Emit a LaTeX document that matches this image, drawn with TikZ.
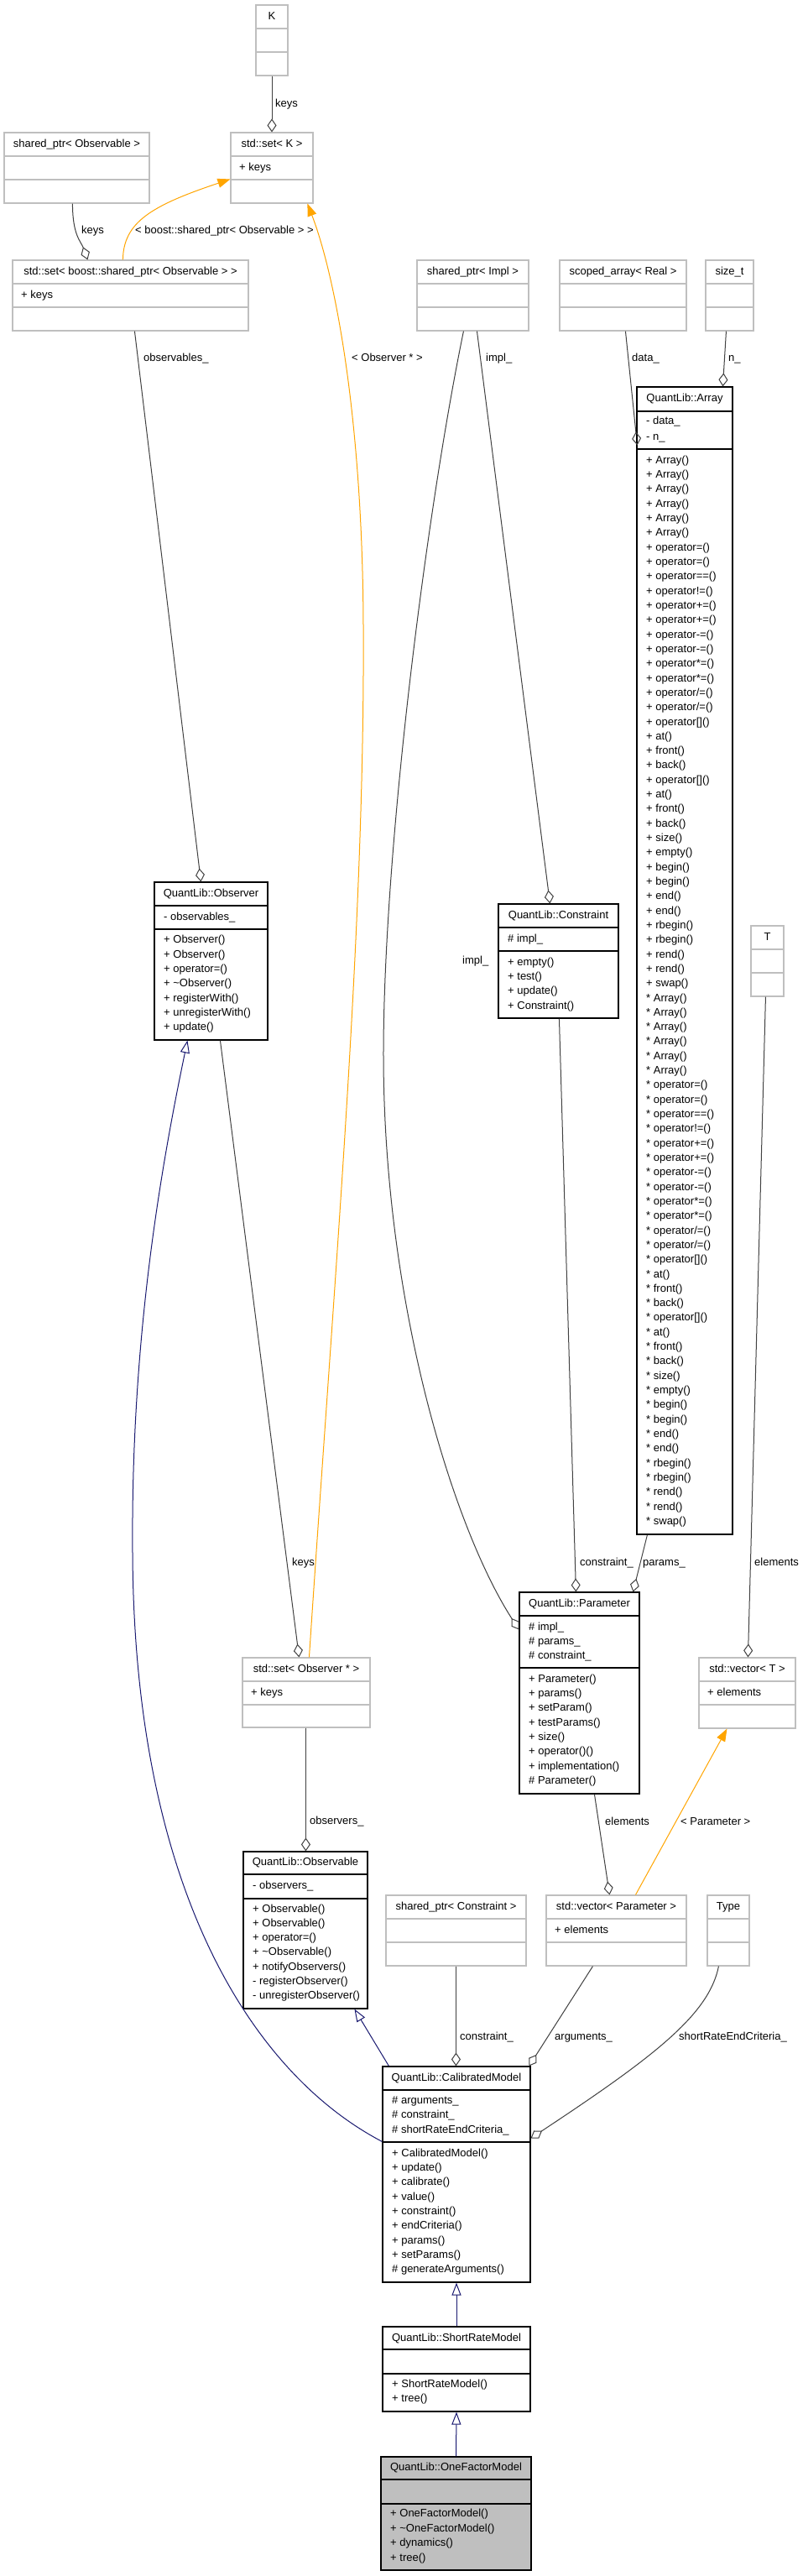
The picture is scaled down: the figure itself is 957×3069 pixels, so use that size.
\documentclass[tikz,border=0pt]{standalone}
\usepackage{fontspec}
\setmainfont{Liberation Sans}
\usetikzlibrary{arrows.meta,fit,calc}
\definecolor{edgegray}{HTML}{404040}
\definecolor{boxgray}{HTML}{BFBFBF}
\definecolor{midblue}{HTML}{191970}
\definecolor{tmplorange}{HTML}{FFA500}
\definecolor{fillgray}{HTML}{BFBFBF}
\newcounter{umltn}
\newcommand\umlmem[3]{\stepcounter{umltn}\node[txt,anchor=west] (m\arabic{umltn}) at (#1,#2) {#3};}
\newcommand\umlname[3]{\stepcounter{umltn}\node[txt] (m\arabic{umltn}) at (#1,#2) {#3};}
\newcommand\tbox[7]{%
  \node[gbox, fit={(#2,#3) (#4,#5)}] (#1) {};
  \draw[gline] (#2,#3+28) -- (#4,#3+28);
  \draw[gline] (#2,#3+56) -- (#4,#3+56);
  \node[txt] (#1-t) at ({(#2+#4)/2},{#3+14}) {#6};
  \if\relax\detokenize{#7}\relax\else
  \node[txt,anchor=west] (#1-a) at ({#2+10},{#3+42}) {#7};\fi
}
\begin{document}
\begin{tikzpicture}[x=1pt,y=-1pt,
 txt/.style={inner sep=0pt, text height=9.4pt, text depth=2.7pt, font=\fontsize{13}{15}\selectfont},
 bbox/.style={draw=black, line width=1.1pt, inner sep=0pt},
 gbox/.style={draw=boxgray, line width=1.1pt, inner sep=0pt},
 bline/.style={draw=black, line width=1.1pt},
 gline/.style={draw=boxgray, line width=1.1pt},
 agg/.style={draw=edgegray, line width=1pt, -{Diamond[open, length=16pt, width=11pt]}},
 inh/.style={draw=midblue, line width=1pt, -{Triangle[open, length=15pt, width=11pt]}},
 tpl/.style={draw=tmplorange, line width=1pt, -{Triangle[length=15pt, width=11pt]}},
 lbl/.style={txt, anchor=west}]
\fill[white] (0,0) rectangle (957,3069);
\useasboundingbox (0,0) rectangle (957,3069);

% ---------- gray (template / external) boxes
\tbox{K}{305}{6}{343}{90}{K}{}
\tbox{setK}{275}{158}{373}{242}{std::set< K >}{+ keys}
\tbox{shObs}{5}{158}{178}{242}{shared\_ptr< Observable >}{}
\tbox{setSh}{15}{310}{296}{394}{std::set< boost::shared\_ptr< Observable > >}{+ keys}
\tbox{shImpl}{497}{310}{630}{394}{shared\_ptr< Impl >}{}
\tbox{scArr}{667}{310}{818}{394}{scoped\_array< Real >}{}
\tbox{sizet}{841}{310}{898}{394}{size\_t}{}
\tbox{T}{895}{1103}{934}{1187}{T}{}
\tbox{vecT}{833}{1975}{948}{2059}{std::vector< T >}{+ elements}
\tbox{setObs}{289}{1975}{441}{2058}{std::set< Observer * >}{+ keys}
\tbox{shCon}{460}{2258}{627}{2342}{shared\_ptr< Constraint >}{}
\tbox{vecP}{651}{2258}{818}{2342}{std::vector< Parameter >}{+ elements}
\tbox{Type}{843}{2258}{893}{2342}{Type}{}

% ---------- QuantLib::Array
\node[bbox, fit={(759,461) (873,1828)}] (Array) {};
\draw[bline] (759,490) -- (873,490);
\draw[bline] (759,535) -- (873,535);
\umlname{816}{475.5}{QuantLib::Array}
\umlmem{770}{502}{- data\_}
\umlmem{770}{521}{- n\_}
\foreach \p [count=\k from 0] in {+,*} {
  \foreach \m [count=\i from 0] in {Array(),Array(),Array(),Array(),Array(),Array(),
    operator=(),operator=(),operator==(),operator!=(),operator+=(),operator+=(),
    operator-=(),operator-=(),operator*=(),operator*=(),operator/=(),operator/=(),
    operator[](),at(),front(),back(),operator[](),at(),front(),back(),size(),empty(),
    begin(),begin(),end(),end(),rbegin(),rbegin(),rend(),rend(),swap()} {
    \node[txt,anchor=west] (am\k-\i) at (770,{549+17.315*(\i+37*\k)}) {\p{} \m};
  }
}

% ---------- QuantLib::Constraint
\node[bbox, fit={(594,1077) (737,1213)}] (Constraint) {};
\draw[bline] (594,1105) -- (737,1105);
\draw[bline] (594,1133) -- (737,1133);
\umlname{665.5}{1091}{QuantLib::Constraint}
\umlmem{605}{1119}{\# impl\_}
\umlmem{605}{1147}{+ empty()}
\umlmem{605}{1164.3}{+ test()}
\umlmem{605}{1181.6}{+ update()}
\umlmem{605}{1198.9}{+ Constraint()}

% ---------- QuantLib::Observer
\node[bbox, fit={(184,1051) (319,1239)}] (Observer) {};
\draw[bline] (184,1079) -- (319,1079);
\draw[bline] (184,1107) -- (319,1107);
\umlname{251.5}{1065}{QuantLib::Observer}
\umlmem{195}{1093}{- observables\_}
\umlmem{195}{1120.5}{+ Observer()}
\umlmem{195}{1137.8}{+ Observer()}
\umlmem{195}{1155.1}{+ operator=()}
\umlmem{195}{1172.4}{+ \textasciitilde Observer()}
\umlmem{195}{1189.7}{+ registerWith()}
\umlmem{195}{1207}{+ unregisterWith()}
\umlmem{195}{1224.3}{+ update()}

% ---------- QuantLib::Parameter
\node[bbox, fit={(619,1897) (762,2137)}] (Parameter) {};
\draw[bline] (619,1925) -- (762,1925);
\draw[bline] (619,1987) -- (762,1987);
\umlname{690.5}{1911}{QuantLib::Parameter}
\umlmem{630}{1939}{\# impl\_}
\umlmem{630}{1956}{\# params\_}
\umlmem{630}{1973}{\# constraint\_}
\umlmem{630}{2001}{+ Parameter()}
\umlmem{630}{2018.3}{+ params()}
\umlmem{630}{2035.6}{+ setParam()}
\umlmem{630}{2052.9}{+ testParams()}
\umlmem{630}{2070.2}{+ size()}
\umlmem{630}{2087.5}{+ operator()()}
\umlmem{630}{2104.8}{+ implementation()}
\umlmem{630}{2122.1}{\# Parameter()}

% ---------- QuantLib::Observable
\node[bbox, fit={(290,2206) (438,2393)}] (Observable) {};
\draw[bline] (290,2233) -- (438,2233);
\draw[bline] (290,2262) -- (438,2262);
\umlname{364}{2219.5}{QuantLib::Observable}
\umlmem{301}{2247}{- observers\_}
\umlmem{301}{2275}{+ Observable()}
\umlmem{301}{2292.2}{+ Observable()}
\umlmem{301}{2309.4}{+ operator=()}
\umlmem{301}{2326.6}{+ \textasciitilde Observable()}
\umlmem{301}{2343.8}{+ notifyObservers()}
\umlmem{301}{2361}{- registerObserver()}
\umlmem{301}{2378.2}{- unregisterObserver()}

% ---------- QuantLib::CalibratedModel
\node[bbox, fit={(456,2462) (632,2719)}] (CM) {};
\draw[bline] (456,2490) -- (632,2490);
\draw[bline] (456,2552) -- (632,2552);
\umlname{544}{2476}{QuantLib::CalibratedModel}
\umlmem{467}{2503}{\# arguments\_}
\umlmem{467}{2520.5}{\# constraint\_}
\umlmem{467}{2538}{\# shortRateEndCriteria\_}
\umlmem{467}{2566}{+ CalibratedModel()}
\umlmem{467}{2583.3}{+ update()}
\umlmem{467}{2600.6}{+ calibrate()}
\umlmem{467}{2617.9}{+ value()}
\umlmem{467}{2635.2}{+ constraint()}
\umlmem{467}{2652.5}{+ endCriteria()}
\umlmem{467}{2669.8}{+ params()}
\umlmem{467}{2687.1}{+ setParams()}
\umlmem{467}{2704.4}{\# generateArguments()}

% ---------- QuantLib::ShortRateModel
\node[bbox, fit={(456,2772) (632,2873)}] (SRM) {};
\draw[bline] (456,2799) -- (632,2799);
\draw[bline] (456,2828) -- (632,2828);
\umlname{544}{2786}{QuantLib::ShortRateModel}
\umlmem{467}{2841}{+ ShortRateModel()}
\umlmem{467}{2858.5}{+ tree()}

% ---------- QuantLib::OneFactorModel
\node[bbox, fill=fillgray, fit={(454,2927) (633,3062)}] (OFM) {};
\draw[bline] (454,2954) -- (633,2954);
\draw[bline] (454,2983) -- (633,2983);
\umlname{543.5}{2940}{QuantLib::OneFactorModel}
\umlmem{465}{2995.5}{+ OneFactorModel()}
\umlmem{465}{3013}{+ \textasciitilde OneFactorModel()}
\umlmem{465}{3030.5}{+ dynamics()}
\umlmem{465}{3048}{+ tree()}

% ---------- aggregation edges
\draw[agg] (K.south) -- (setK.north);
\node[lbl] (l1) at (328,124) {keys};
\draw[agg] ($(shObs.south west)+(82,0)$) .. controls ($(shObs.south west)+(82,38)$) and ($(setSh.north west)+(82,-22)$) .. ($(setSh.north west)+(90,0)$);
\node[lbl] (l2) at (97,275) {keys};
\draw[agg] ($(setSh.south west)+(146,0)$) -- ($(Observer.north west)+(56,0)$);
\node[lbl] (l3) at (171,427) {observables\_};
\draw[agg] ($(Observer.south west)+(79,0)$) -- ($(setObs.north west)+(68,0)$);
\node[lbl] (l4) at (348,1862) {keys};
\draw[agg] ($(setObs.south west)+(76,0)$) -- ($(Observable.north west)+(75,0)$);
\node[lbl] (l5) at (369,2170) {observers\_};
\draw[agg] ($(shImpl.south west)+(72,0)$) -- ($(Constraint.north west)+(62,0)$);
\node[lbl] (l6) at (579,427) {impl\_};
\draw[agg] ($(shImpl.south west)+(56,0)$) .. controls (510,600) and (458,1000) .. (457,1250) .. controls (456,1550) and (540,1820) .. ($(Parameter.north west)+(0,45)$);
\node[lbl] (l7) at (551,1145) {impl\_};
\draw[agg] ($(Constraint.south west)+(73,0)$) -- ($(Parameter.north west)+(68,0)$);
\node[lbl] (l8) at (691,1862) {constraint\_};
\draw[agg] ($(Array.south west)+(13,0)$) -- ($(Parameter.north west)+(136,0)$);
\node[lbl] (l9) at (766,1862) {params\_};
\draw[agg] ($(scArr.south west)+(79,0)$) -- ($(Array.north west)+(1,70)$);
\node[lbl] (l10) at (753,427) {data\_};
\draw[agg] ($(sizet.south west)+(25,0)$) -- ($(Array.north west)+(103,0)$);
\node[lbl] (l11) at (868,427) {n\_};
\draw[agg] ($(T.south west)+(18,0)$) -- ($(vecT.north west)+(59,0)$);
\node[lbl] (l12) at (899,1862) {elements};
\draw[agg] ($(Parameter.south west)+(90,0)$) -- ($(vecP.north west)+(76,0)$);
\node[lbl] (l13) at (721,2171) {elements};
\draw[agg] ($(shCon.south west)+(84,0)$) -- ($(CM.north west)+(88,0)$);
\node[lbl] (l14) at (548,2427) {constraint\_};
\draw[agg] ($(vecP.south west)+(56,0)$) -- ($(CM.north east)+(-2,0)$);
\node[lbl] (l15) at (661,2427) {arguments\_};
\draw[agg] ($(Type.south west)+(14,0)$) .. controls (845,2400) and (780,2450) .. ($(CM.north east)+(0,86)$);
\node[lbl] (l16) at (809,2427) {shortRateEndCriteria\_};

% ---------- template instantiation edges
\draw[tpl] ($(setSh.north west)+(132,0)$) .. controls (147,265) and (180,245) .. ($(setK.north west)+(0,56)$);
\node[lbl] (l17) at (161,275) {< boost::shared\_ptr< Observable > >};
\draw[tpl] ($(setObs.north west)+(80,0)$) .. controls (400,1500) and (435,1100) .. (433,745) .. controls (432,500) and (400,330) .. ($(setK.south west)+(92,0)$);
\node[lbl] (l18) at (419,427) {< Observer * >};
\draw[tpl] ($(vecP.north west)+(107,0)$) -- ($(vecT.south west)+(34,0)$);
\node[lbl] (l19) at (811,2171) {< Parameter >};

% ---------- inheritance edges
\draw[inh] ($(CM.north west)+(0,90)$) .. controls (300,2470) and (160,2250) .. (158,1850) .. controls (156,1600) and (190,1400) .. ($(Observer.south west)+(40,0)$);
\draw[inh] ($(CM.north west)+(8,0)$) -- ($(Observable.south west)+(133,0)$);
\draw[inh] (SRM.north) -- (CM.south);
\draw[inh] (OFM.north) -- (SRM.south);
\end{tikzpicture}
\end{document}
